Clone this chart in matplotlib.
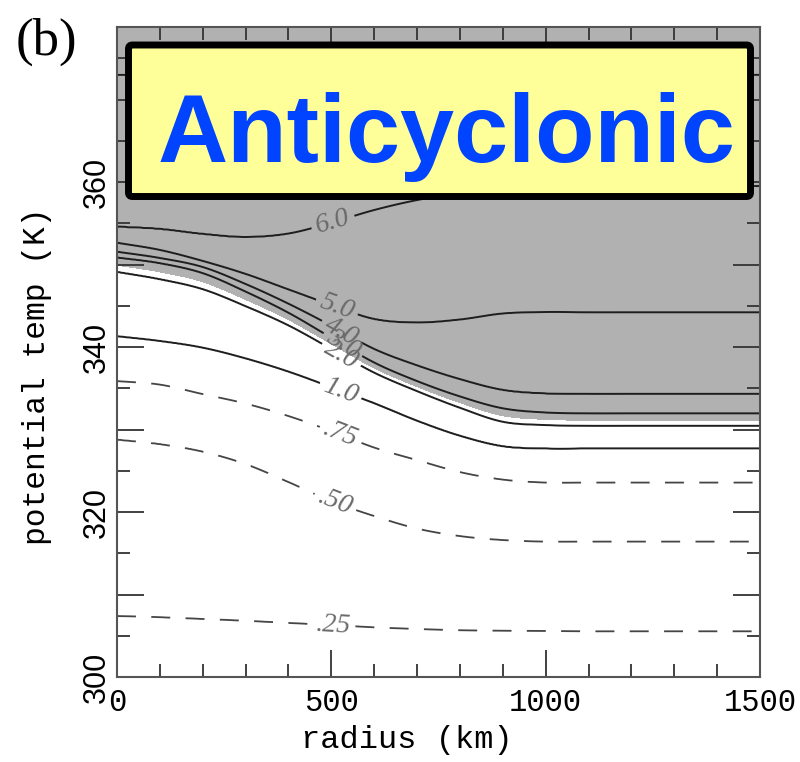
import numpy as np
import matplotlib
matplotlib.use("Agg")
import matplotlib.pyplot as plt
from matplotlib.patches import FancyBboxPatch
from matplotlib.transforms import IdentityTransform
from matplotlib.ticker import MultipleLocator

# ---------------- data ----------------
radius_km = np.arange(0, 1501, 100)

theta_pv025 = [307.39, 307.24, 307.03, 306.81, 306.55, 306.30, 306.02, 305.82,
               305.67, 305.61, 305.58, 305.54, 305.54, 305.54, 305.54, 305.54]
theta_pv050 = [328.79, 328.24, 327.33, 325.82, 323.64, 321.33, 319.52, 318.00,
               317.09, 316.61, 316.42, 316.42, 316.42, 316.42, 316.42, 316.42]
theta_pv075 = [335.88, 335.45, 334.30, 333.15, 331.64, 329.82, 327.82, 326.30,
               324.85, 323.94, 323.58, 323.58, 323.58, 323.58, 323.58, 323.58]
theta_pv1 = [341.33, 340.75, 339.94, 338.64, 337.04, 335.15, 333.21, 331.09,
             329.27, 328.00, 327.72, 327.72, 327.72, 327.72, 327.72, 327.72]
theta_pv2 = [349.13, 348.24, 347.03, 344.97, 342.64, 339.79, 336.91, 334.67,
             332.65, 330.95, 330.55, 330.46, 330.46, 330.46, 330.46, 330.46]
theta_pv3 = [350.87, 350.18, 348.97, 346.73, 344.16, 341.13, 338.12, 335.87,
             334.01, 332.57, 332.06, 331.96, 331.96, 331.96, 331.96, 331.96]
theta_pv4 = [351.55, 350.79, 349.70, 347.64, 345.25, 342.58, 339.76, 337.77,
             336.10, 334.79, 334.36, 334.30, 334.30, 334.30, 334.30, 334.30]
theta_pv5 = [352.64, 351.76, 350.42, 348.85, 346.97, 345.09, 343.39, 342.97,
             343.33, 344.06, 344.24, 344.21, 344.21, 344.21, 344.21, 344.21]
theta_pv6 = [354.58, 354.30, 353.70, 353.33, 353.75, 355.07, 356.61, 357.82,
             358.67, 359.15, 359.39, 359.52, 359.52, 359.52, 359.52, 359.52]
theta_pv7 = [373.0] * 16

pv_levels = [0.25, 0.5, 0.75, 1.0, 2.0, 3.0, 4.0, 5.0, 6.0, 7.0]
pv_level_thetas = [theta_pv025, theta_pv050, theta_pv075, theta_pv1, theta_pv2,
                   theta_pv3, theta_pv4, theta_pv5, theta_pv6, theta_pv7]
dashed_levels = [0.25, 0.5, 0.75]
solid_levels = [1.0, 2.0, 3.0, 4.0, 5.0, 6.0, 7.0]
shade_threshold = 2.45
level_label_text = {0.25: ".25", 0.5: ".50", 0.75: ".75", 1.0: "1.0",
                    2.0: "2.0", 3.0: "3.0", 4.0: "4.0", 5.0: "5.0", 6.0: "6.0"}

x_ticks = [0, 500, 1000, 1500]
x_ticklabels = ["0", "500", "1000", "1500"]
y_ticks = [300, 310, 320, 330, 340, 350, 360, 370]
y_ticklabels = ["300", "", "320", "", "340", "", "360", ""]


# ---------------- helpers ----------------
def smooth_curve(x, y, xn):
    """Cubic Hermite (Catmull-Rom) curve through the read points."""
    x = np.asarray(x, float)
    y = np.asarray(y, float)
    h = np.diff(x)
    m = np.empty_like(y)
    m[1:-1] = (y[2:] - y[:-2]) / (x[2:] - x[:-2])
    m[0] = (y[1] - y[0]) / h[0]
    m[-1] = (y[-1] - y[-2]) / h[-1]
    idx = np.clip(np.searchsorted(x, xn) - 1, 0, len(x) - 2)
    t = (xn - x[idx]) / h[idx]
    h00 = 2 * t**3 - 3 * t**2 + 1
    h10 = t**3 - 2 * t**2 + t
    h01 = -2 * t**3 + 3 * t**2
    h11 = t**3 - t**2
    return (h00 * y[idx] + h10 * h[idx] * m[idx]
            + h01 * y[idx + 1] + h11 * h[idx] * m[idx + 1])


# field on a fine grid built from the read contour positions
r_fine = np.linspace(0, 1500, 751)
th_fine = np.linspace(297, 382, 1000)
lev_theta = np.array([smooth_curve(radius_km, th, r_fine) for th in pv_level_thetas])
lev_ext = np.concatenate([[0.0], pv_levels, [8.0]])
Z = np.empty((th_fine.size, r_fine.size))
for j in range(r_fine.size):
    col = np.concatenate([[295.0], lev_theta[:, j], [385.0]])
    Z[:, j] = np.interp(th_fine, col, lev_ext)
R, T = np.meshgrid(r_fine, th_fine)

# ---------------- figure ----------------
W, H = 800, 762
fig = plt.figure(figsize=(W / 100, H / 100), dpi=100)
ax_l, ax_r, ax_t, ax_b = 117, 760, 27, 677
ax = fig.add_axes([ax_l / W, (H - ax_b) / H, (ax_r - ax_l) / W, (ax_b - ax_t) / H])
ax.set_xlim(0, 1500)
ax.set_ylim(300, 378.8)

ax.contourf(R, T, Z, levels=[shade_threshold, 100], colors=["#b1b1b1"])
cs_d = ax.contour(R, T, Z, levels=dashed_levels, colors="#454545",
                  linewidths=1.3, linestyles=[(0, (10.5, 8.5))])
cs_s = ax.contour(R, T, Z, levels=solid_levels, colors="#1e1e1e",
                  linewidths=1.4, linestyles="solid")

label_r = {0.25: 504, 0.5: 509, 0.75: 522, 1.0: 522, 2.0: 524,
           3.0: 527, 4.0: 524, 5.0: 513, 6.0: 504}


def label_pos(levels):
    out = []
    for lv in levels:
        i = pv_levels.index(lv)
        th = smooth_curve(radius_km, pv_level_thetas[i], np.array([label_r[lv]]))[0]
        out.append((label_r[lv], float(th)))
    return out


with plt.rc_context({"font.family": "Liberation Serif", "font.style": "italic"}):
    ax.clabel(cs_d, levels=dashed_levels, inline=True, inline_spacing=5,
              fontsize=20, colors="#6a6a6a",
              fmt={lv: level_label_text[lv] for lv in dashed_levels},
              manual=label_pos(dashed_levels))
    lab_s = [1.0, 2.0, 3.0, 4.0, 5.0, 6.0]
    ax.clabel(cs_s, levels=lab_s, inline=True, inline_spacing=5,
              fontsize=20, colors="#6a6a6a",
              fmt={lv: level_label_text[lv] for lv in lab_s},
              manual=label_pos(lab_s))

# ticks
ax.set_xticks(x_ticks)
ax.set_xticklabels(x_ticklabels, fontsize=22, family="Liberation Mono")
ax.set_yticks(y_ticks)
ax.set_yticklabels(y_ticklabels, fontsize=22, family="Liberation Sans",
                   rotation=90, va="center")
ax.xaxis.set_minor_locator(MultipleLocator(100))
ax.yaxis.set_minor_locator(MultipleLocator(5))
ax.tick_params(which="both", direction="in", top=True, right=True,
               color="#333333", width=1.3)
ax.tick_params(which="major", length=19.5)
ax.tick_params(which="minor", length=9.5)
ax.tick_params(axis="x", which="major", pad=8)
ax.tick_params(axis="y", which="major", pad=4)
for sp in ax.spines.values():
    sp.set_linewidth(1.5)
    sp.set_color("#555555")

ax.set_xlabel("radius (km)", fontsize=23, family="Liberation Mono")
ax.xaxis.set_label_coords(0.451, -0.074)
ax.set_ylabel("potential temp (K)", fontsize=22.5, family="Liberation Mono")
ax.yaxis.set_label_coords(-0.101, 0.463)

# panel letter
fig.text(46 / W, (H - 55) / H, "(b)", ha="center", va="baseline",
         fontsize=38, family="Liberation Serif")

# title box
box = FancyBboxPatch((128.5, H - 196.5), 622, 151.5,
                     boxstyle="round,pad=0,rounding_size=4",
                     transform=IdentityTransform(), facecolor="#ffff99",
                     edgecolor="black", linewidth=5, zorder=4)
fig.add_artist(box)
fig.text(447 / W, (H - 162) / H, "Anticyclonic", ha="center", va="baseline",
         fontsize=70, fontweight="bold", family="Liberation Sans",
         color="#0044ff", zorder=5)

fig.savefig("out.png", dpi=100)
